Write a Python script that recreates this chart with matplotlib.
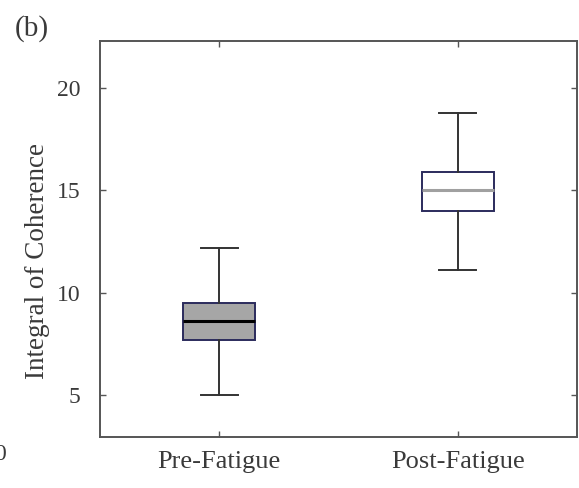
import matplotlib
matplotlib.use("Agg")
import matplotlib.pyplot as plt

# summary statistics per condition
groups    = ["Pre-Fatigue", "Post-Fatigue"]
whisk_lo  = [5.0, 11.1]
q1        = [7.7, 14.0]
median    = [8.6, 15.0]
q3        = [9.5, 15.9]
whisk_hi  = [12.2, 18.8]
yticks    = [5, 10, 15, 20]

plt.rcParams['font.family'] = ['Liberation Serif', 'DejaVu Serif']

fig = plt.figure(figsize=(5.79, 4.88), dpi=100)
ax = fig.add_axes([0.1727, 0.1045, 0.824, 0.8115])

stats = [dict(label=g, whislo=lo, q1=a, med=m, q3=b, whishi=hi, fliers=[])
         for g, lo, a, m, b, hi in zip(groups, whisk_lo, q1, median, q3, whisk_hi)]

bp = ax.bxp(stats, positions=[1, 2], widths=0.3, patch_artist=True,
            showfliers=False, capwidths=0.155,
            boxprops=dict(edgecolor='#2b2b5c', linewidth=1.4),
            whiskerprops=dict(color='#333333', linewidth=1.4),
            capprops=dict(color='#333333', linewidth=1.4))

face = ['#a6a6a6', 'white']
med_col = ['black', '#a0a0a0']
for box, fc in zip(bp['boxes'], face):
    box.set_facecolor(fc)
for line, mc in zip(bp['medians'], med_col):
    line.set_color(mc)
    line.set_linewidth(2.2)

ax.set_xlim(0.5, 2.5)
ax.set_ylim(2.95, 22.3)
ax.set_yticks(yticks)
ax.set_xticks([1, 2])
ax.set_xticklabels(groups)
ax.tick_params(direction='in', length=4, width=1, color='#555555',
               top=True, right=True, labelcolor='#3a3a3a')
ax.tick_params(axis='x', labelsize=19, pad=10)
ax.tick_params(axis='y', labelsize=17, pad=14)
for sp in ax.spines.values():
    sp.set_color('#555555')
    sp.set_linewidth(1.4)

ax.set_ylabel("Integral of Coherence", fontsize=19.5, color='#3a3a3a')
ax.yaxis.set_label_coords(-0.105, 0.444)

fig.text(0.025, 0.97, "(b)", fontsize=21, color='#3a3a3a', va='top', ha='left')
fig.text(6 / 579, 1 - 455 / 488, "0", fontsize=17, color='#3a3a3a', va='center', ha='right')

fig.savefig("out.png", dpi=100)
